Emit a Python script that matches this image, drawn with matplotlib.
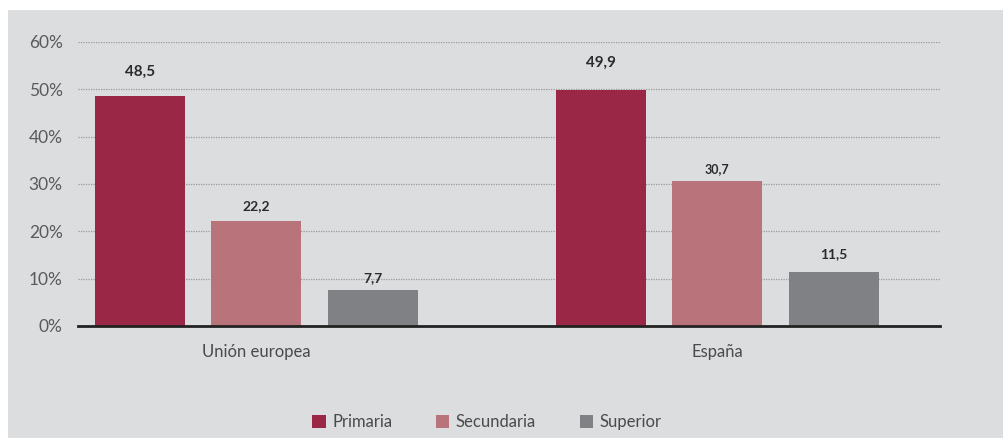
import matplotlib.pyplot as plt
import numpy as np
from matplotlib.patches import Rectangle, Patch

plt.rcParams['font.family'] = ['Lato', 'DejaVu Sans']

groups = ['Unión europea', 'España']
series = ['Primaria', 'Secundaria', 'Superior']
values = {
    'Primaria': [48.5, 49.9],
    'Secundaria': [22.2, 30.7],
    'Superior': [7.7, 11.5],
}
labels = {
    'Primaria': ['48,5', '49,9'],
    'Secundaria': ['22,2', '30,7'],
    'Superior': ['7,7', '11,5'],
}
yticks = [0, 10, 20, 30, 40, 50, 60]

colors = {'Primaria': '#9b2746', 'Secundaria': '#b9737a', 'Superior': '#808184'}
# label gap above each bar (points) and label size, per series/group
label_pad = {'Primaria': [13, 14.5], 'Secundaria': [6.5, 4], 'Superior': [3.8, 8]}
label_size = {'Primaria': [11, 11], 'Secundaria': [10, 9], 'Superior': [10, 10]}

bg = '#dcdddf'
fig = plt.figure(figsize=(10.04, 4.38), dpi=100, facecolor='white')
fig.patches.append(Rectangle((8 / 1004, 0), 1, 1 - 10 / 438, transform=fig.transFigure,
                             facecolor=bg, edgecolor='none', zorder=-10))

ax = fig.add_axes([78 / 1004, 1 - 326 / 438, 862 / 1004, 284 / 438])
ax.set_facecolor(bg)

x = np.arange(len(groups))
width = 0.195
step = 0.253
for i, s in enumerate(series):
    pos = x + (i - 1) * step
    ax.bar(pos, values[s], width=width, color=colors[s], zorder=3)
    for p, v, t, pad, fs in zip(pos, values[s], labels[s], label_pad[s], label_size[s]):
        ax.annotate(t, (p, v), xytext=(0, pad), textcoords='offset points',
                    ha='center', va='bottom', fontsize=fs, fontweight='bold',
                    color='#2b2b2b')

ax.set_xlim(-0.387, 1.483)
ax.set_ylim(0, 60)
ax.set_yticks(yticks)
ax.set_yticklabels([f'{t}%' for t in yticks], fontsize=12.5, color='#5a5a5a')
ax.yaxis.grid(True, linestyle=(0, (1, 1)), color='#9a9a9a', linewidth=0.9, zorder=0)
ax.set_xticks(x)
ax.set_xticklabels(groups, fontsize=12, color='#4a4a4a')
ax.tick_params(axis='both', length=0, pad=11)
ax.tick_params(axis='x', pad=13)
for side in ['top', 'right', 'left']:
    ax.spines[side].set_visible(False)
ax.spines['bottom'].set_color('#222222')
ax.spines['bottom'].set_linewidth(2)
ax.spines['bottom'].set_zorder(4)

handles = [Patch(facecolor=colors[s], label=s) for s in series]
fig.legend(handles=handles, loc='center', bbox_to_anchor=(487 / 1004, 1 - 422 / 438),
           ncol=3, frameon=False, fontsize=12, handlelength=0.8, handleheight=0.8,
           handletextpad=0.4, columnspacing=2.6, labelcolor='#4a4a4a')

fig.savefig('out.png', dpi=100, facecolor='white')
